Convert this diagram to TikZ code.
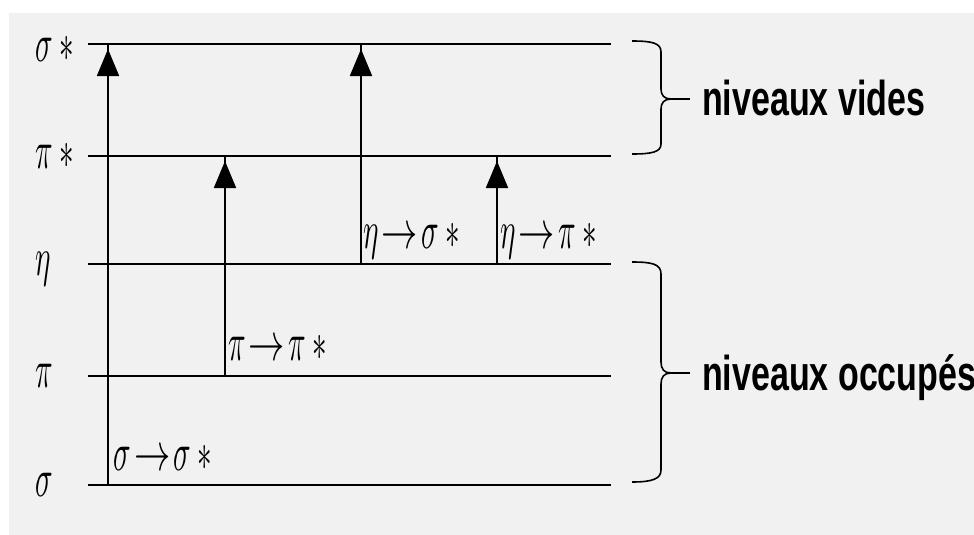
\documentclass[tikz,border=0pt]{standalone}
\usepackage{fontspec}
\usepackage{graphicx}
\usetikzlibrary{arrows.meta}
\newfontfamily\labfont{Liberation Sans}
\newcommand{\gr}[1]{\scalebox{2.9}[5.4]{$#1$}}
\newcommand{\arr}{\mathord{\scalebox{1.25}[1]{$\rightarrow$}}}
\newcommand{\trl}[2]{\gr{#1\mkern2mu\arr\mkern2mu#2\mkern4mu{\ast}}}
\definecolor{bg}{HTML}{F1F1F1}
\begin{document}
\begin{tikzpicture}[x=1pt,y=-1pt,
  level/.style={line width=2.6pt},
  trans/.style={line width=1.8pt, postaction={draw,-{Triangle[length=27pt,width=22pt]},shorten >=5pt}},
  brc/.style={line width=1.6pt},
  brtip/.style={line width=2.4pt},
  lvl/.style={anchor=base west, inner sep=0pt},
  grp/.style={anchor=base west, inner sep=0pt, font={\labfont\bfseries\fontsize{34}{40}\selectfont}}
]
\useasboundingbox (0,0) rectangle (974,535);
\clip (0,0) rectangle (974,535);
\fill[bg] (9,13) rectangle (974,535);

% energy levels
\foreach \n/\y in {s/485, p/376, n/264, ps/156, ss/44}{
  \coordinate (L\n) at (88,\y);
  \coordinate (R\n) at (611,\y);
  \draw[level] (L\n) -- (R\n);
}

% level labels
\node[lvl] (lab-ss) at (35,62) {\gr{\sigma\mkern4mu{\ast}}};
\node[lvl] (lab-ps) at (35,168) {\gr{\pi\mkern4mu{\ast}}};
\node[lvl] (lab-n)  at (35,275) {\gr{\eta}};
\node[lvl] (lab-p)  at (35,387) {\gr{\pi}};
\node[lvl] (lab-s)  at (35,496) {\gr{\sigma}};

% transitions
\coordinate (t1a) at (108,485); \coordinate (t1b) at (108,44);
\coordinate (t2a) at (225,376); \coordinate (t2b) at (225,156);
\coordinate (t3a) at (361,264); \coordinate (t3b) at (361,44);
\coordinate (t4a) at (497,264); \coordinate (t4b) at (497,156);
\draw[trans] (t1a) -- (t1b);
\draw[trans] (t2a) -- (t2b);
\draw[trans] (t3a) -- (t3b);
\draw[trans] (t4a) -- (t4b);

\node[lvl] (tr1) at (113,470) {\trl{\sigma}{\sigma}};
\node[lvl] (tr2) at (228,360) {\trl{\pi}{\pi}};
\node[lvl] (tr3) at (363,248) {\trl{\eta}{\sigma}};
\node[lvl] (tr4) at (500,248) {\trl{\eta}{\pi}};

% braces
\draw[brc] (632,41) .. controls (652,41) and (661,43) .. (661,52) -- (661,89)
  .. controls (661,95) and (664,99) .. (671,99)
  .. controls (664,99) and (661,103) .. (661,109) -- (661,144)
  .. controls (661,152) and (652,154) .. (632,154);
\draw[brtip] (668,99) -- (690,99);
\draw[brc] (632,262) .. controls (652,262) and (661,264) .. (661,274) -- (661,362)
  .. controls (661,369) and (664,373) .. (671,373)
  .. controls (664,373) and (661,377) .. (661,384) -- (661,470)
  .. controls (661,479) and (652,482) .. (632,482);
\draw[brtip] (668,373) -- (690,373);

\node[grp] (vides) at (702,115) {\scalebox{1}[1.44]{niveaux vides}};
\node[grp] (occ) at (702,390) {\scalebox{1}[1.44]{niveaux occupés}};
\end{tikzpicture}
\end{document}
